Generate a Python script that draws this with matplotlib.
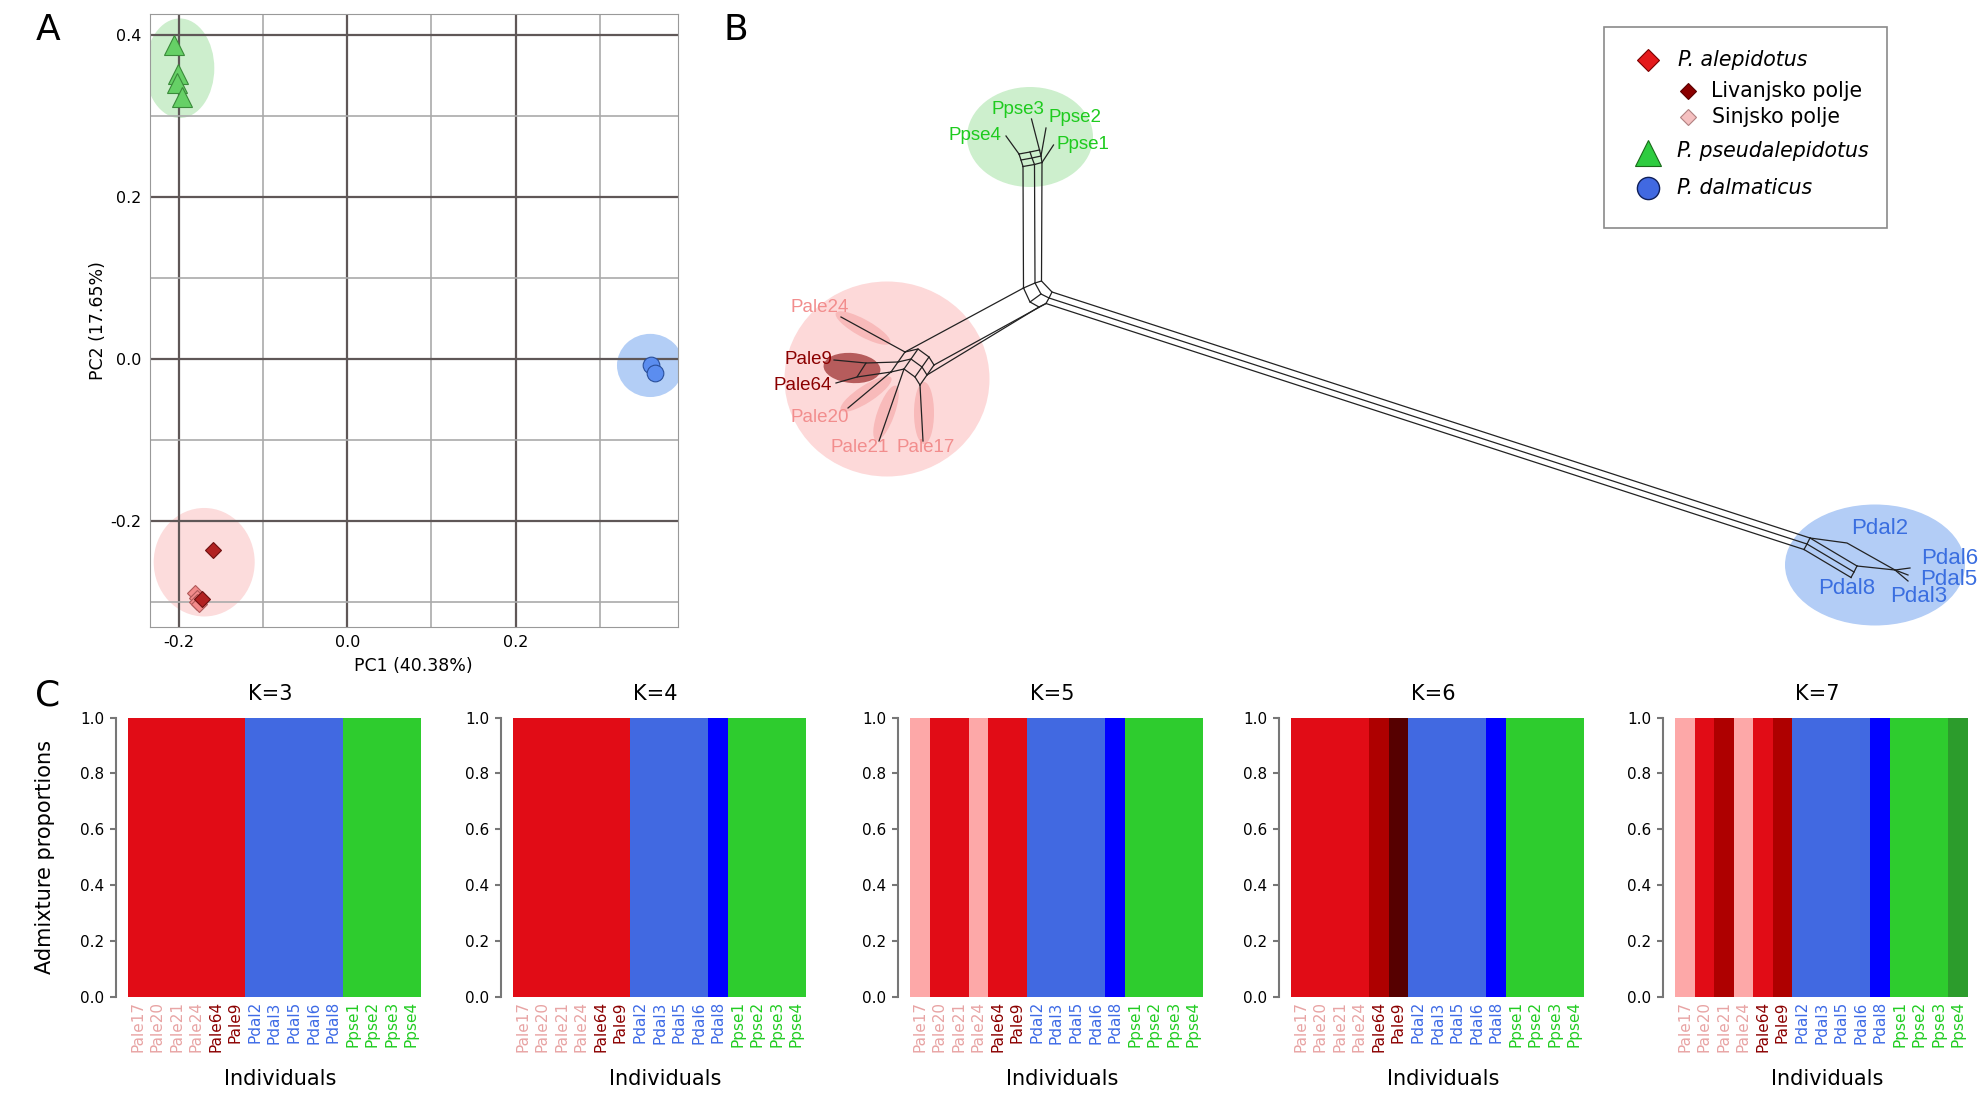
import matplotlib.pyplot as plt
from matplotlib.patches import Ellipse, Rectangle
from matplotlib.ticker import MultipleLocator, FormatStrFormatter

plt.rcParams['font.family'] = 'DejaVu Sans'
plt.rcParams['axes.unicode_minus'] = False

FW, FH = 1985, 1102

# ---------------- A: PCA ----------------
pse_pc1 = [-0.206, -0.201, -0.202, -0.196]
pse_pc2 = [0.388, 0.352, 0.341, 0.324]
dal_pc1 = [0.361, 0.366]
dal_pc2 = [-0.007, -0.017]
liv_pc1 = [-0.159, -0.173]          # Livanjsko polje
liv_pc2 = [-0.236, -0.297]
sin_pc1 = [-0.181, -0.179, -0.178, -0.176]   # Sinjsko polje
sin_pc2 = [-0.289, -0.295, -0.300, -0.303]
# group ellipses: centre x, centre y, width, height
ell_pse = (-0.199, 0.359, 0.082, 0.123)
ell_dal = (0.360, -0.008, 0.079, 0.078)
ell_ale = (-0.170, -0.251, 0.120, 0.134)

# ---------------- B: NeighborNet (layout in pixels of the figure, y down) ----------------
net_green = [
    [(1019, 154), (1030, 152), (1039.5, 150)],
    [(1021, 160), (1032, 158), (1041, 156)],
    [(1023, 166.5), (1034.5, 164.5), (1042, 162.5)],
    [(1019, 154), (1021, 160), (1023, 166.5)],
    [(1030, 152), (1032, 158), (1034.5, 164.5)],
    [(1039.5, 150), (1041, 156), (1042, 162.5)],
    [(1023, 166.5), (1023.5, 288)],
    [(1034.5, 164.5), (1035, 283)],
    [(1042, 162.5), (1041.5, 281)],
    [(1006, 136), (1019, 154)],
    [(1031.5, 119), (1039.5, 150)],
    [(1046, 128), (1041, 156)],
    [(1053.5, 145), (1042, 162.5)],
]
net_centre = [
    [(1023.5, 288), (1035, 283), (1041.5, 281), (1052, 292), (1049, 298),
     (1046, 303.5), (1039, 307), (1030, 302), (1023.5, 288)],
    [(1035, 283), (1041, 294), (1049, 298)],
    [(1041, 294), (1030, 302)],
]
net_blue = [
    [(1052, 292), (1810, 538)],
    [(1049, 298), (1807, 544)],
    [(1046, 303.5), (1804, 549.5)],
    [(1810, 538), (1857, 566)],
    [(1807, 544), (1854, 572)],
    [(1804, 549.5), (1851, 577.5)],
    [(1810, 538), (1807, 544), (1804, 549.5)],
    [(1857, 566), (1854, 572), (1851, 577.5)],
    [(1810, 538), (1847, 543), (1895, 570), (1908, 581)],
    [(1857, 566), (1895, 570), (1910, 568)],
    [(1895, 570), (1908, 575)],
]
red_row0 = [(905, 352), (918, 349), (929, 357), (934, 365)]
red_row1 = [(898, 362), (911, 359), (922, 367), (927, 375)]
red_row2 = [(891, 372), (904, 369), (915, 377), (920, 385)]
net_red = [
    [(1023.5, 288), (905, 352)],
    [(1046, 303.5), (934, 365)],
    [(1039, 307), (927, 375)],
    [(841, 317), (905, 352)],
    [(834, 360), (866, 363), (898, 362)],
    [(836, 383), (857, 377), (891, 372)],
    [(866, 363), (857, 377)],
    [(848, 408), (891, 372)],
    [(879, 441), (904, 369)],
    [(923, 441), (920, 385)],
]
net_labels = ['Ppse3', 'Ppse2', 'Ppse4', 'Ppse1',
              'Pale24', 'Pale9', 'Pale64', 'Pale20', 'Pale21', 'Pale17',
              'Pdal2', 'Pdal6', 'Pdal5', 'Pdal3', 'Pdal8']
net_label_x = [1017.5, 1074.5, 975, 1083, 819.5, 808.5, 803, 819.5, 860, 925.5,
               1880, 1950, 1948.5, 1918.5, 1846.5]
net_label_y = [110, 117, 136, 144.5, 307.5, 359, 386, 417.5, 448, 447,
               529, 558.5, 579.5, 597, 589]
# (cx, cy, width, height, angle, colour)
net_ellipses = [
    (887, 379, 205, 195, 0, '#fdd9d9'),
    (1030, 137, 126, 100, 0, '#cdefcd'),
    (1875, 565, 180, 121, 0, '#b3cdf6'),
    (863, 328, 62, 17, 29, '#f8baba'),
    (866, 394, 60, 17, -33, '#f8baba'),
    (886, 413, 58, 17, -70, '#f8baba'),
    (924, 413, 62, 20, 90, '#f8baba'),
    (852, 368, 57, 30, 5, '#b65c5c'),
]

# ---------------- C: admixture ----------------
individuals = ['Pale17', 'Pale20', 'Pale21', 'Pale24', 'Pale64', 'Pale9',
               'Pdal2', 'Pdal3', 'Pdal5', 'Pdal6', 'Pdal8',
               'Ppse1', 'Ppse2', 'Ppse3', 'Ppse4']
ind_colors = ['#e8a4a4'] * 4 + ['#8b0000'] * 2 + ['#3d6ae6'] * 5 + ['#22cc22'] * 4
cluster_colors = {'red': '#e10c16', 'royal': '#4169e1', 'blue': '#0000ff', 'green': '#2ecc2e',
                  'pink': '#fda8a8', 'dred': '#ae0000', 'ddred': '#560000', 'dgreen': '#2c9c2c'}
q_assigned = [1.0, 1.0, 1.0, 1.0, 1.0, 1.0, 1.0, 1.0, 1.0, 1.0, 1.0, 1.0, 1.0, 1.0, 1.0]
k_values = [3, 4, 5, 6, 7]
k3 = ['red'] * 6 + ['royal'] * 5 + ['green'] * 4
k4 = ['red'] * 6 + ['royal'] * 4 + ['blue'] + ['green'] * 4
k5 = ['pink', 'red', 'red', 'pink', 'red', 'red'] + ['royal'] * 4 + ['blue'] + ['green'] * 4
k6 = ['red'] * 4 + ['dred', 'ddred'] + ['royal'] * 4 + ['blue'] + ['green'] * 4
k7 = ['pink', 'red', 'dred', 'pink', 'red', 'dred'] + ['royal'] * 4 + ['blue'] + ['green'] * 3 + ['dgreen']
k_assign = [k3, k4, k5, k6, k7]


def box(x0, y0, x1, y1):
    return [x0 / FW, 1 - y1 / FH, (x1 - x0) / FW, (y1 - y0) / FH]


fig = plt.figure(figsize=(FW / 100, FH / 100), dpi=100)

# ---- panel A ----
axA = fig.add_axes(box(149.5, 14, 678, 627))
for (cx, cy, w, h), col in zip([ell_pse, ell_dal, ell_ale], ['#cdeecd', '#b3cef6', '#fcdcdc']):
    axA.add_patch(Ellipse((cx, cy), w, h, facecolor=col, edgecolor='none', zorder=0.2))
axA.plot(sin_pc1, sin_pc2, 'D', ms=8, mfc='#f28b8b', mec='#b05a5a', mew=0.8, zorder=3)
axA.plot(liv_pc1, liv_pc2, 'D', ms=8, mfc='#b22222', mec='#6e1010', mew=0.8, zorder=3)
axA.plot(pse_pc1, pse_pc2, '^', ms=14, mfc='#66d066', mec='#3a8a3a', mew=0.8, zorder=3)
axA.plot(dal_pc1, dal_pc2, 'o', ms=12, mfc='#5b8def', mec='#2a4f9a', mew=0.8, zorder=3)
axA.set_xlim(-0.235, 0.393)
axA.set_ylim(-0.331, 0.426)
for a in (axA.xaxis, axA.yaxis):
    a.set_major_locator(MultipleLocator(0.2))
    a.set_minor_locator(MultipleLocator(0.1))
    a.set_major_formatter(FormatStrFormatter('%.1f'))
axA.set_axisbelow(True)
axA.grid(which='major', color='#5f5757', lw=1.6)
axA.grid(which='minor', color='#aaaaaa', lw=1.2)
axA.tick_params(which='both', length=0, labelsize=11.5)
axA.tick_params(axis='x', pad=6)
axA.tick_params(axis='y', pad=5.5)
for s in axA.spines.values():
    s.set_color('#999999')
axA.set_xlabel('PC1 (40.38%)', fontsize=12.5)
axA.xaxis.set_label_coords(0.5, -0.049)
axA.set_ylabel('PC2 (17.65%)', fontsize=12.5)
axA.yaxis.set_label_coords(-0.080, 0.5)

# ---- panel B ----
axB = fig.add_axes(box(700, 0, FW, 680))
axB.set_xlim(700, FW)
axB.set_ylim(680, 0)
axB.axis('off')
for cx, cy, w, h, ang, col in net_ellipses:
    axB.add_patch(Ellipse((cx, cy), w, h, angle=ang, facecolor=col, edgecolor='none', zorder=1))
for line in net_green + net_centre + net_blue + net_red:
    xs, ys = zip(*line)
    axB.plot(xs, ys, color='#222222', lw=0.9, zorder=2)
for rows in (red_row0, red_row1, red_row2):
    xs, ys = zip(*rows)
    axB.plot(xs, ys, color='#222222', lw=0.9, zorder=2)
for col_nodes in zip(red_row0, red_row1, red_row2):
    xs, ys = zip(*col_nodes)
    axB.plot(xs, ys, color='#222222', lw=0.9, zorder=2)
for name, x, y in zip(net_labels, net_label_x, net_label_y):
    if name.startswith('Ppse'):
        col, fs = '#1ecb1e', 13.5
    elif name.startswith('Pdal'):
        col, fs = '#3a6ee0', 16
    elif name in ('Pale9', 'Pale64'):
        col, fs = '#8b0000', 13.5
    else:
        col, fs = '#f28d8d', 13.5
    axB.text(x, y, name, color=col, fontsize=fs, family='Liberation Sans',
             ha='center', va='center', zorder=3)

# legend
axB.add_patch(Rectangle((1604, 27), 283, 201, fill=False, edgecolor='#8a8a8a', lw=1.2, zorder=3))
axB.plot([1648], [60], 'D', ms=11, mfc='#e41a1c', mec='#7a0000', mew=0.8, zorder=4)
axB.plot([1688], [91], 'D', ms=8.5, mfc='#8b0000', mec='#5a0000', mew=0.8, zorder=4)
axB.plot([1688], [117], 'D', ms=8.5, mfc='#f5c0c0', mec='#b08080', mew=0.8, zorder=4)
axB.plot([1648], [153], '^', ms=19, mfc='#2ecc40', mec='#1a6a1a', mew=0.8, zorder=4)
axB.plot([1648], [188], 'o', ms=16, mfc='#4169e1', mec='#10205a', mew=1.0, zorder=4)
axB.text(1678, 60, 'P. alepidotus', style='italic', fontsize=14.8, va='center', zorder=4)
axB.text(1711, 91, 'Livanjsko polje', fontsize=14.8, va='center', zorder=4)
axB.text(1712, 117, 'Sinjsko polje', fontsize=14.8, va='center', zorder=4)
axB.text(1677, 151, 'P. pseudalepidotus', style='italic', fontsize=14.8, va='center', zorder=4)
axB.text(1677, 188, 'P. dalmaticus', style='italic', fontsize=14.8, va='center', zorder=4)

# ---- panel C ----
c_left = [128, 513, 910, 1291, 1675]
for i, (k, assign) in enumerate(zip(k_values, k_assign)):
    ax = fig.add_axes(box(c_left[i], 717.5, c_left[i] + 293, 997))
    ax.bar(range(len(individuals)), q_assigned, width=1.0, align='edge',
           color=[cluster_colors[c] for c in assign], linewidth=0)
    ax.set_xlim(0, len(individuals))
    ax.set_ylim(0, 1)
    for s in ('top', 'right', 'bottom'):
        ax.spines[s].set_visible(False)
    ax.spines['left'].set_position(('outward', 8.6))
    ax.spines['left'].set_bounds(0, 1)
    ax.spines['left'].set_color('#777777')
    ax.spines['left'].set_linewidth(1.5)
    ax.set_yticks([0, 0.2, 0.4, 0.6, 0.8, 1.0])
    ax.yaxis.set_major_formatter(FormatStrFormatter('%.1f'))
    ax.tick_params(axis='y', length=4.3, width=1.5, color='#777777', labelsize=11, pad=4)
    ax.set_xticks([j + 0.5 for j in range(len(individuals))])
    ax.set_xticklabels(individuals, rotation=90, fontsize=11)
    ax.tick_params(axis='x', length=0, pad=3)
    for lab, col in zip(ax.get_xticklabels(), ind_colors):
        lab.set_color(col)
    ax.text(0.487, 1.084, 'K=%d' % k, transform=ax.transAxes, ha='center', va='center', fontsize=15)
    ax.set_xlabel('Individuals', fontsize=15)
    ax.xaxis.set_label_coords(0.52, -0.258)
    if i == 0:
        ax.set_ylabel('Admixture proportions', fontsize=15)
        ax.yaxis.set_label_coords(-0.25, 0.5)

# panel letters
fig.text(48 / FW, 1 - 30 / FH, 'A', fontsize=26, ha='center', va='center')
fig.text(736 / FW, 1 - 30 / FH, 'B', fontsize=26, ha='center', va='center')
fig.text(48 / FW, 1 - 695 / FH, 'C', fontsize=26, ha='center', va='center')

fig.savefig('out.png', dpi=100)
